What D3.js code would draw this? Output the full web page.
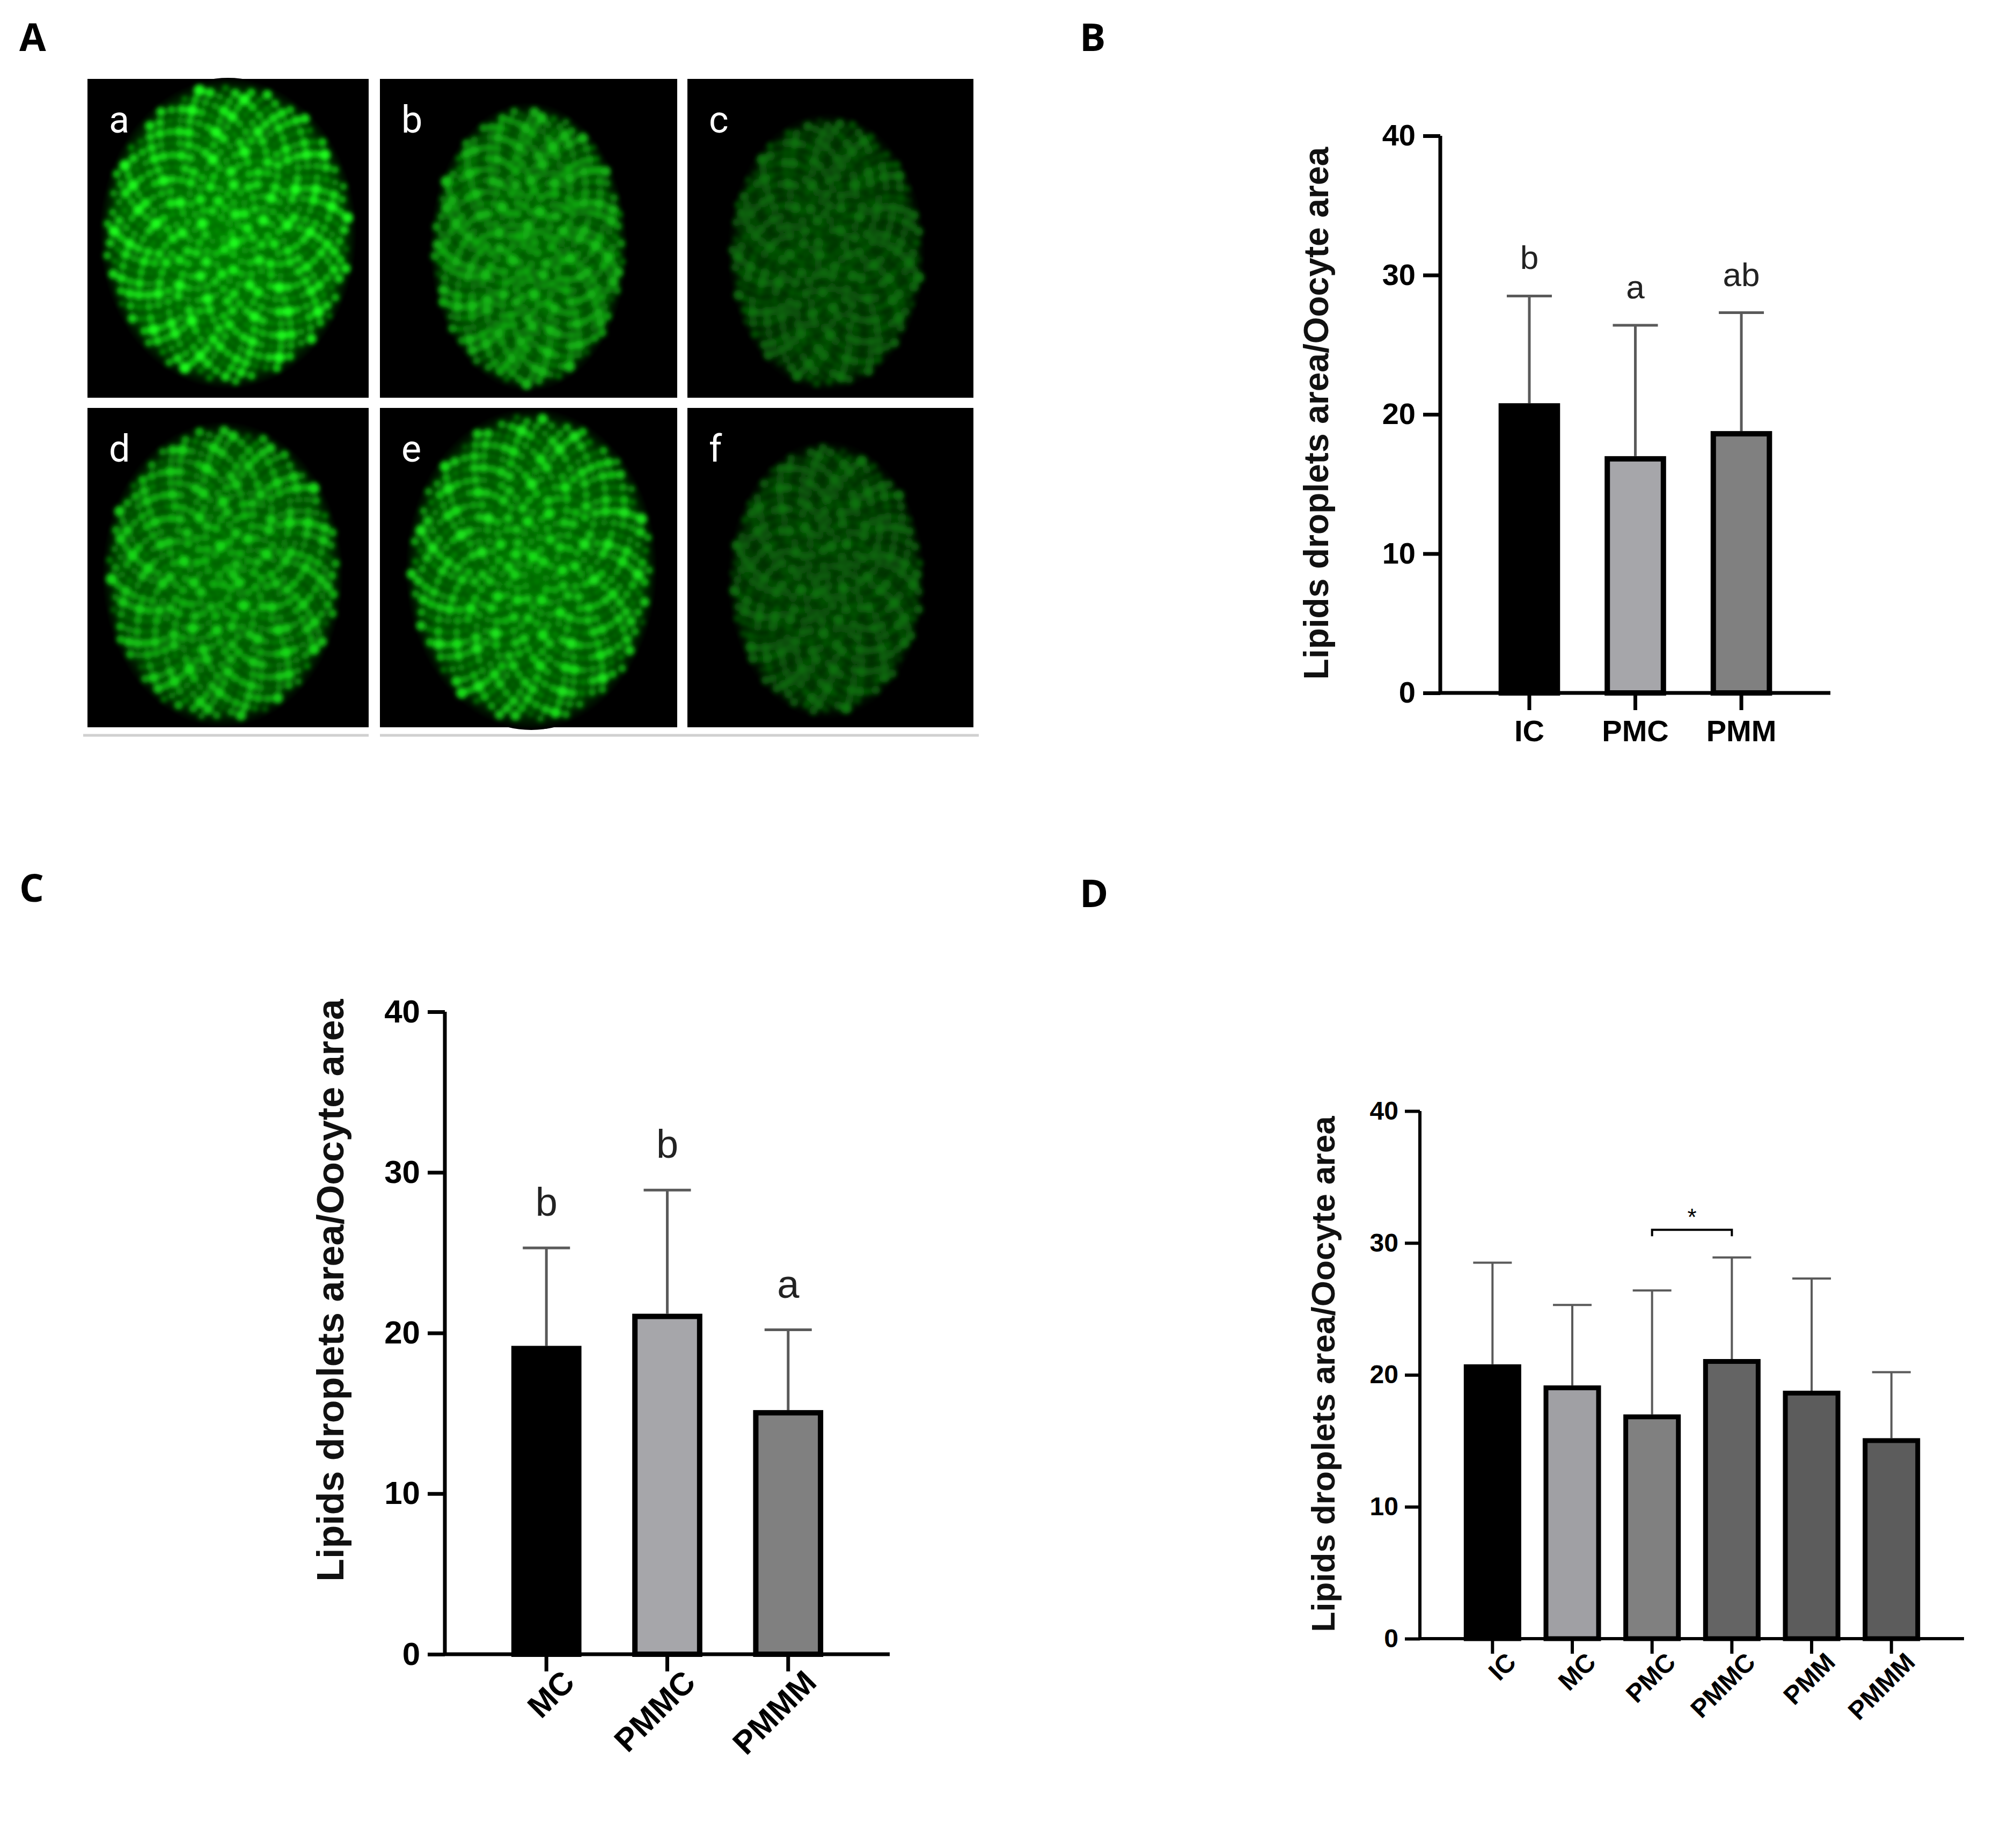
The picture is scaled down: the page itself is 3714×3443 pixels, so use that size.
<!DOCTYPE html>
<html><head><meta charset="utf-8">
<script src="https://cdn.jsdelivr.net/npm/d3@7"></script>
<style>body{margin:0;background:#fff}</style></head>
<body><svg id="c" width="3714" height="3443"></svg>
<script>
// ---- data ----
const catsB = ["IC","PMC","PMM"];
const meanB = [20.8,17.0,18.8];
const upperB = [28.5,26.4,27.3];
const letB = ["b","a","ab"];
const colB = ["#000000","#a6a6aa","#808080"];

const catsC = ["MC","PMMC","PMMM"];
const meanC = [19.2,21.2,15.2];
const upperC = [25.3,28.9,20.2];
const letC = ["b","b","a"];
const colC = ["#000000","#a6a6aa","#808080"];

const catsD = ["IC","MC","PMC","PMMC","PMM","PMMM"];
const meanD = [20.8,19.2,17.0,21.2,18.8,15.2];
const upperD = [28.5,25.3,26.4,28.9,27.3,20.2];
const colD = ["#000000","#a0a0a4","#808080","#646464","#5c5c5c","#5c5c5c"];
const sigD = {from:"PMC",to:"PMMC",y:31,label:"*"};

const yTicks = [0,10,20,30,40];
const imgLabels = ["a","b","c","d","e","f"];
const imgBright = [1.0,0.75,0.45,0.85,0.9,0.45];

const svg = d3.select("#c");
const F = "'Liberation Sans', Arial, sans-serif";

// panel letters
[["A",36,95],["B",2012,95],["C",36,1680],["D",2012,1690]].forEach(([t,x,y])=>
  svg.append("text").attr("x",x).attr("y",y).text(t).attr("font-family","'Open Sans',"+F)
     .attr("font-weight","bold").attr("font-size",72));

// ---- panel A images ----
const defs = svg.append("defs");
defs.append("filter").attr("id","blur").append("feGaussianBlur").attr("stdDeviation",4);
const cells = [
 [163,147,524,594],[708,147,554,594],[1281,147,533,594],
 [163,760,524,595],[708,760,554,595],[1281,760,533,595]];
const ovals = [
 [425,435,240,290],[985,460,185,270],[1540,470,185,260],
 [415,1070,225,285],[990,1060,235,300],[1540,1080,185,260]];
cells.forEach((c,i)=>{
  const g = svg.append("g");
  g.append("rect").attr("x",c[0]).attr("y",c[1]).attr("width",c[2]).attr("height",c[3]).attr("fill","#000");
  const [cx,cy,rx,ry]=ovals[i], b=imgBright[i];
  const grad = defs.append("radialGradient").attr("id","g"+i);
  grad.append("stop").attr("offset","0%").attr("stop-color",d3.rgb(0,Math.round(120*b),0));
  grad.append("stop").attr("offset","85%").attr("stop-color",d3.rgb(0,Math.round(80*b),0));
  grad.append("stop").attr("offset","100%").attr("stop-color","#000");
  g.append("ellipse").attr("cx",cx).attr("cy",cy).attr("rx",rx).attr("ry",ry).attr("fill","url(#g"+i+")");
  const n=520, pts=d3.range(n).map(k=>{
    const r=Math.sqrt((k+0.5)/n), a=k*2.39996+i;
    const v=0.5+0.5*Math.sin(k*12.9898+i*3.1)*Math.cos(k*4.1414);
    return {x:cx+rx*0.95*r*Math.cos(a),y:cy+ry*0.95*r*Math.sin(a),v};
  });
  g.append("g").attr("filter","url(#blur)").selectAll("circle").data(pts).join("circle")
   .attr("cx",d=>d.x).attr("cy",d=>d.y).attr("r",d=>5+6*d.v)
   .attr("fill",d=>d3.rgb(Math.round(30*d.v*b),Math.round((120+135*d.v)*b),Math.round(30*d.v*b)));
  g.append("text").attr("x",c[0]+40).attr("y",c[1]+100).text(imgLabels[i])
   .attr("fill","#fff").attr("font-family","Roboto,"+F).attr("font-size",70);
});
svg.append("line").attr("x1",155).attr("x2",687).attr("y1",1370).attr("y2",1370).attr("stroke","#d0d0d0").attr("stroke-width",5);
svg.append("line").attr("x1",708).attr("x2",1824).attr("y1",1370).attr("y2",1370).attr("stroke","#d0d0d0").attr("stroke-width",5);

// ---- bar chart function ----
function chart(o){
  const g = svg.append("g");
  const x = d3.scaleBand().domain(o.cats).range([o.x0,o.x1]).paddingInner(o.pad).paddingOuter(o.padOut);
  const y = d3.scaleLinear().domain([0,40]).range([o.y0,o.y40]);
  const ya = d3.axisLeft(y).tickValues(yTicks).tickSize(o.tick).tickPadding(o.tpad);
  const ag = g.append("g").attr("transform",`translate(${o.x0},0)`).call(ya);
  const xa = d3.axisBottom(x).tickSize(o.tick).tickPadding(o.xpad);
  const xg = g.append("g").attr("transform",`translate(0,${o.y0})`).call(xa);
  [ag,xg].forEach(a=>{
    a.selectAll("path,line").attr("stroke","#000").attr("stroke-width",o.sw);
    a.selectAll("text").attr("font-family",F).attr("font-weight","bold").attr("font-size",o.fs).attr("fill","#000");
  });
  ag.select("path").attr("d",`M0,${o.y40}V${o.y0}`);
  xg.select("path").attr("d",`M${o.x0},0H${o.x1}`);
  if(o.rot){
    xg.selectAll("text").attr("text-anchor","end").attr("dy","0.35em")
      .attr("transform",`translate(${o.rotDx},${o.rotDy}) rotate(-45)`);
  }
  const bw=x.bandwidth(), bsw=o.bsw;
  // error bars
  g.selectAll(".e").data(o.cats).join("line").attr("x1",d=>x(d)+bw/2).attr("x2",d=>x(d)+bw/2)
    .attr("y1",(d,i)=>y(o.mean[i])).attr("y2",(d,i)=>y(o.upper[i])).attr("stroke","#5a5a5a").attr("stroke-width",o.esw);
  g.selectAll(".c").data(o.cats).join("line").attr("x1",d=>x(d)+bw/2-o.cap).attr("x2",d=>x(d)+bw/2+o.cap)
    .attr("y1",(d,i)=>y(o.upper[i])).attr("y2",(d,i)=>y(o.upper[i])).attr("stroke","#5a5a5a").attr("stroke-width",o.esw);
  g.selectAll(".b").data(o.cats).join("rect").attr("x",d=>x(d)+bsw/2).attr("width",bw-bsw)
    .attr("y",(d,i)=>y(o.mean[i])+bsw/2).attr("height",(d,i)=>y(0)-y(o.mean[i])-bsw/2)
    .attr("fill",(d,i)=>o.col[i]).attr("stroke","#000").attr("stroke-width",bsw);
  if(o.letters) g.selectAll(".l").data(o.cats).join("text").attr("x",d=>x(d)+bw/2)
    .attr("y",(d,i)=>y(o.upper[i])-o.lgap).attr("text-anchor","middle").text((d,i)=>o.letters[i])
    .attr("font-family",F).attr("font-size",o.lfs).attr("fill","#222");
  g.append("text").attr("transform",`translate(${o.lx},${o.ly}) rotate(-90)`).attr("text-anchor","middle")
    .text("Lipids droplets area/Oocyte area").attr("font-family",F).attr("font-weight","bold").attr("font-size",o.yfs).attr("fill","#111");
  if(o.sig){
    const s=o.sig, xa1=x(s.from)+bw/2, xb=x(s.to)+bw/2, yy=y(s.y);
    g.append("path").attr("d",`M${xa1},${yy+12}V${yy}H${xb}V${yy+12}`).attr("fill","none").attr("stroke","#000").attr("stroke-width",4);
    g.append("text").attr("x",(xa1+xb)/2).attr("y",yy-8).attr("text-anchor","middle").text(s.label)
      .attr("font-family",F).attr("font-size",44);
  }
}

chart({cats:catsB,mean:meanB,upper:upperB,col:colB,letters:letB,
  x0:2684,x1:3411,y0:1291,y40:253,pad:0.42,padOut:0.55,tick:32,tpad:14,xpad:18,sw:7,bsw:10,esw:5,cap:42,
  fs:56,lfs:62,lgap:50,lx:2475,ly:770,yfs:64});
chart({cats:catsC,mean:meanC,upper:upperC,col:colC,letters:letC,
  x0:829,x1:1658,y0:3082,y40:1885,pad:0.42,padOut:0.55,tick:32,tpad:14,xpad:12,sw:7,bsw:10,esw:5,cap:44,
  fs:60,lfs:74,lgap:60,lx:640,ly:2404,yfs:70,rot:true,rotDx:10,rotDy:10});
chart({cats:catsD,mean:meanD,upper:upperD,col:colD,sig:sigD,
  x0:2646,x1:3660,y0:3053,y40:2070,pad:0.28,padOut:0.55,tick:28,tpad:12,xpad:10,sw:6,bsw:9,esw:4,cap:36,
  fs:48,lfs:60,lgap:50,lx:2487,ly:2560,yfs:62,rot:true,rotDx:8,rotDy:8});
</script></body></html>
